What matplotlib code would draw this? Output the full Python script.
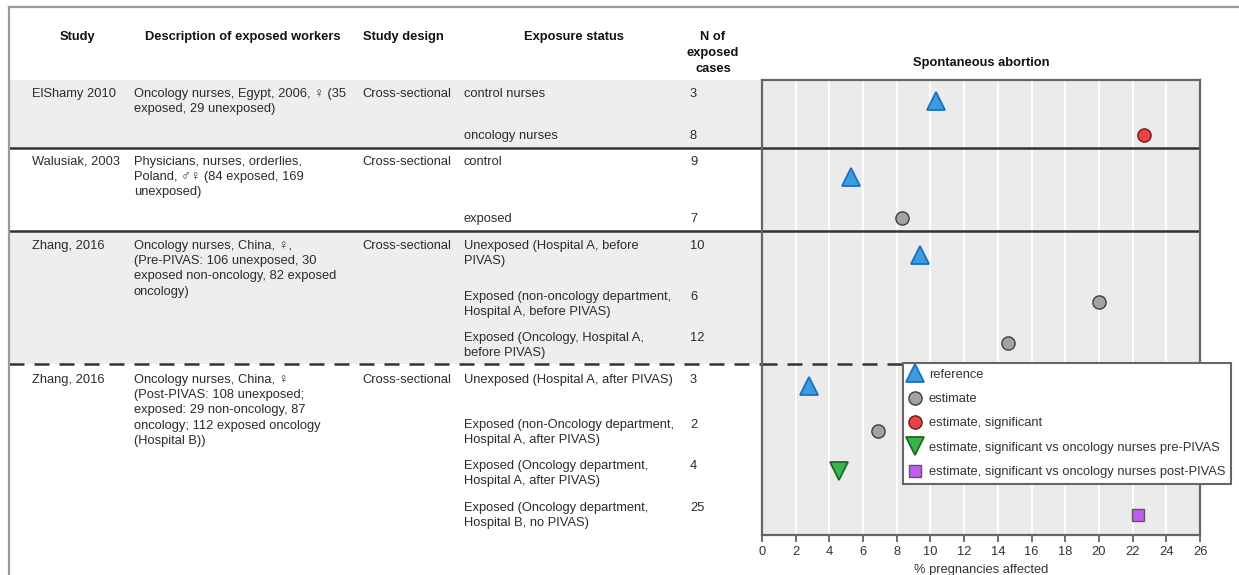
import matplotlib
matplotlib.use("Agg")
import matplotlib.pyplot as plt
from matplotlib.lines import Line2D

plt.rcParams["font.family"] = ["Liberation Sans", "DejaVu Sans"]

# ---------------- data ----------------
studies = ["ElShamy 2010", "Walusiak, 2003", "Zhang, 2016", "Zhang, 2016"]
descriptions = [
    "Oncology nurses, Egypt, 2006, \u2640 (35\nexposed, 29 unexposed)",
    "Physicians, nurses, orderlies,\nPoland, \u2642\u2640 (84 exposed, 169\nunexposed)",
    "Oncology nurses, China, \u2640,\n(Pre-PIVAS: 106 unexposed, 30\nexposed non-oncology, 82 exposed\noncology)",
    "Oncology nurses, China, \u2640\n(Post-PIVAS: 108 unexposed;\nexposed: 29 non-oncology, 87\noncology; 112 exposed oncology\n(Hospital B))",
]
designs = ["Cross-sectional"] * 4

exposure_groups = [
    "control nurses", "oncology nurses",
    "control", "exposed",
    "Unexposed (Hospital A, before\nPIVAS)",
    "Exposed (non-oncology department,\nHospital A, before PIVAS)",
    "Exposed (Oncology, Hospital A,\nbefore PIVAS)",
    "Unexposed (Hospital A, after PIVAS)",
    "Exposed (non-Oncology department,\nHospital A, after PIVAS)",
    "Exposed (Oncology department,\nHospital A, after PIVAS)",
    "Exposed (Oncology department,\nHospital B, no PIVAS)",
]
n_cases = [3, 8, 9, 7, 10, 6, 12, 3, 2, 4, 25]
pct_affected = [10.3, 22.7, 5.3, 8.3, 9.4, 20.0, 14.6, 2.8, 6.9, 4.6, 22.3]
marker_kind = ["reference", "significant",
               "reference", "estimate",
               "reference", "estimate", "estimate",
               "reference", "estimate", "sig_pre", "sig_post"]

legend_labels = {
    "reference": "reference",
    "estimate": "estimate",
    "significant": "estimate, significant",
    "sig_pre": "estimate, significant vs oncology nurses pre-PIVAS",
    "sig_post": "estimate, significant vs oncology nurses post-PIVAS",
}

x_ticks = list(range(0, 27, 2))

# ---------------- styles / layout (pixels) ----------------
styles = {
    "reference": dict(marker="^", ms=12.5, mfc="#3d9be0", mec="#1a6fc4", mew=1.3),
    "estimate": dict(marker="o", ms=9.5, mfc="#a3a3a3", mec="#3f3f3f", mew=1.0),
    "significant": dict(marker="o", ms=9.5, mfc="#e5444a", mec="#7a1414", mew=1.0),
    "sig_pre": dict(marker="v", ms=12.5, mfc="#3bb44a", mec="#1b6a26", mew=1.3),
    "sig_post": dict(marker="s", ms=8, mfc="#c25cf2", mec="#5a5a5a", mew=1.0),
}

W, H = 1239, 575
study_top = [93, 161, 245, 379]
row_text_top = [93, 135, 161, 218, 245, 296, 337, 379, 424, 465, 507]
row_marker_y = [101, 135, 177, 218, 255, 302, 343, 386, 431, 471, 515]
bands = [(80, 148), (231, 364)]
solid_seps = [148, 231]
dashed_sep = 364
plot_left, plot_right, plot_top, plot_bottom = 762, 1200, 80, 535

FS = 9.3
LS = 1.36
TXT = "#2b2b2b"
DY = 5

fig = plt.figure(figsize=(W / 100, H / 100), dpi=100)

# background axes in pixel coordinates for the table part
bg = fig.add_axes([0, 0, 1, 1], zorder=0)
bg.set_xlim(0, W)
bg.set_ylim(H, 0)
bg.axis("off")

for y0, y1 in bands:
    bg.fill_between([9, plot_left], y0, y1, color="#eeeeee", lw=0, zorder=0)
for y in solid_seps:
    bg.plot([9, plot_left], [y, y], color="#333333", lw=1.8, zorder=2,
            solid_capstyle="butt")
bg.plot([9, plot_left], [dashed_sep, dashed_sep], color="#333333", lw=1.8,
        ls=(0, (6, 4)), zorder=2)

# outer frame
bg.plot([9, W], [7, 7], color="#9a9a9a", lw=1.6, zorder=3)
bg.plot([9, 9], [7, H], color="#9a9a9a", lw=1.6, zorder=3)

# headers
hdr_y = 31
hdr = dict(va="top", fontsize=FS, weight="bold", color="#111")
bg.text(77, hdr_y, "Study", ha="center", **hdr)
bg.text(243, hdr_y, "Description of exposed workers", ha="center", **hdr)
bg.text(403, hdr_y, "Study design", ha="center", **hdr)
bg.text(574, hdr_y, "Exposure status", ha="center", **hdr)
bg.text(713, hdr_y, "N of\nexposed\ncases", ha="center", linespacing=1.45,
        multialignment="center", **hdr)

# study rows
for name, desc, design, yt in zip(studies, descriptions, designs, study_top):
    bg.text(32, yt - DY, name, ha="left", va="top", fontsize=FS, color=TXT)
    bg.text(134, yt - DY, desc, ha="left", va="top", fontsize=FS, color=TXT, linespacing=LS)
    bg.text(362, yt - DY, design, ha="left", va="top", fontsize=FS, color=TXT)

for grp, n, yt in zip(exposure_groups, n_cases, row_text_top):
    bg.text(464, yt - DY, grp, ha="left", va="top", fontsize=FS, color=TXT, linespacing=LS)
    bg.text(690, yt - DY, str(n), ha="left", va="top", fontsize=FS, color=TXT)

# ---------------- dot plot ----------------
ax = fig.add_axes([plot_left / W, 1 - plot_bottom / H,
                   (plot_right - plot_left) / W, (plot_bottom - plot_top) / H], zorder=1)
ax.set_facecolor("#ebebeb")
ax.set_xlim(0, 26)
ax.set_ylim(plot_bottom, plot_top)
ax.set_xticks(x_ticks)
ax.set_yticks([])
ax.grid(axis="x", color="white", lw=1.4)
ax.set_axisbelow(True)
for s in ax.spines.values():
    s.set_color("#666666")
    s.set_linewidth(1.6)
ax.tick_params(axis="x", length=5, width=1.2, color="#555555", labelsize=FS,
               labelcolor="#333333", pad=3)

for y in solid_seps:
    ax.axhline(y, color="#333333", lw=1.8, zorder=2)
ax.axhline(dashed_sep, color="#333333", lw=1.8, ls=(0, (6, 4)), zorder=2)

for val, kind, y in zip(pct_affected, marker_kind, row_marker_y):
    ax.plot([val], [y], ls="none", zorder=3, **styles[kind])

ax.set_title("Spontaneous abortion", fontsize=FS, weight="bold", color="#111", pad=10)
ax.set_xlabel("% pregnancies affected", fontsize=FS, color="#333333", labelpad=4)

handles = [Line2D([], [], ls="none", label=legend_labels[k], **styles[k])
           for k in ["reference", "estimate", "significant", "sig_pre", "sig_post"]]
leg = fig.legend(handles=handles, loc="upper left",
                 bbox_to_anchor=(903 / W, 1 - 363 / H), fontsize=FS,
                 frameon=True, fancybox=False, edgecolor="#666666",
                 framealpha=1, handlelength=1.0, handletextpad=0.55,
                 labelspacing=0.95, borderpad=0.45, borderaxespad=0)
leg.get_frame().set_linewidth(1.5)
for t in leg.get_texts():
    t.set_color("#333333")

fig.savefig("out.png", dpi=100)
